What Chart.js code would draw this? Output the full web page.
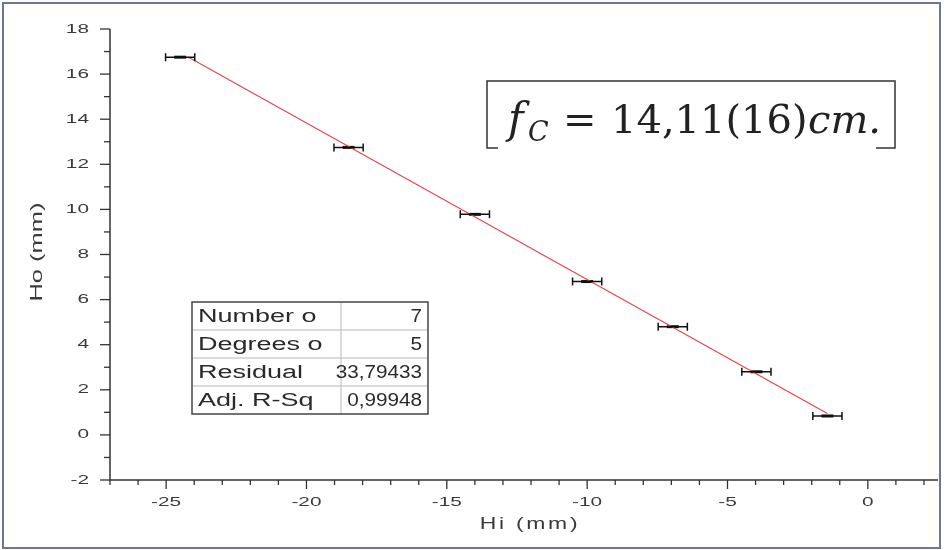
<!DOCTYPE html>
<html>
<head>
<meta charset="utf-8">
<script src="https://cdn.jsdelivr.net/npm/chart.js@4"></script>
<style>
  html, body { margin: 0; padding: 0; background: #fff; }
  canvas { display: block; }
</style>
</head>
<body>
<canvas id="lensChart" width="947" height="550"></canvas>
<script>
// measured image heights vs object heights
const hiValues = [-24.5, -18.5, -14.0, -10.0, -6.95, -3.97, -1.44];
const hoValues = [16.75, 12.75, 9.78, 6.8, 4.8, 2.8, 0.84];
const hiErrors = [0.52, 0.52, 0.52, 0.52, 0.52, 0.52, 0.52];

// linear fit drawn across the measured range
const fitHi = [-24.2, -1.44];
const fitHo = [16.75, 0.95];

const xTickLabels = [-25, -20, -15, -10, -5, 0];
const yTickLabels = [-2, 0, 2, 4, 6, 8, 10, 12, 14, 16, 18];

const statNames = ['Number o', 'Degrees o', 'Residual', 'Adj. R-Sq'];
const statValues = ['7', '5', '33,79433', '0,99948'];

const ctx = document.getElementById('lensChart');

function wideText(c, text, x, y, sx, align) {
    c.save();
    c.translate(x, y);
    c.scale(sx, 1);
    c.textAlign = align;
    c.fillText(text, 0, 0);
    c.restore();
}

// axis lines, outward ticks and the stretched labels
const axesPlugin = {
    id: 'axesPlugin',
    afterDraw(chart) {
        const c = chart.ctx;
        const xs = chart.scales.x;
        const ys = chart.scales.y;
        const area = chart.chartArea;
        c.save();
        c.strokeStyle = '#333';
        c.lineWidth = 1.5;
        c.beginPath();
        c.moveTo(area.left, area.top);
        c.lineTo(area.left, area.bottom);
        c.lineTo(area.right, area.bottom);
        c.stroke();

        c.lineWidth = 1.3;
        ys.ticks.forEach(t => {
            const y = ys.getPixelForValue(t.value);
            const len = yTickLabels.includes(t.value) ? 10 : 6;
            c.beginPath();
            c.moveTo(area.left - len, y);
            c.lineTo(area.left, y);
            c.stroke();
        });
        xs.ticks.forEach(t => {
            const x = xs.getPixelForValue(t.value);
            const len = xTickLabels.includes(t.value) ? 9 : 5;
            c.beginPath();
            c.moveTo(x, area.bottom);
            c.lineTo(x, area.bottom + len);
            c.stroke();
        });

        c.fillStyle = '#3a3a3a';
        c.font = '13px "Liberation Sans", Arial, sans-serif';
        c.textBaseline = 'middle';
        yTickLabels.forEach(v => {
            wideText(c, String(v), 89, ys.getPixelForValue(v), 1.6, 'right');
        });
        xTickLabels.forEach(v => {
            wideText(c, String(v), xs.getPixelForValue(v), 502, 1.6, 'center');
        });

        c.font = '17px "Liberation Sans", Arial, sans-serif';
        c.letterSpacing = '2px';
        wideText(c, 'Hi (mm)', 530, 524, 1.35, 'center');
        c.letterSpacing = '0px';
        c.save();
        c.translate(37, 252);
        c.rotate(-Math.PI / 2);
        wideText(c, 'Ho (mm)', 0, 0, 1.5, 'center');
        c.restore();
        c.restore();
    }
};

// horizontal error bars on the measured points
const errorBarPlugin = {
    id: 'errorBarPlugin',
    afterDatasetsDraw(chart) {
        const c = chart.ctx;
        const xs = chart.scales.x;
        const ys = chart.scales.y;
        c.save();
        c.strokeStyle = '#111';
        c.lineWidth = 1.5;
        hiValues.forEach((hi, i) => {
            const x1 = xs.getPixelForValue(hi - hiErrors[i]);
            const x2 = xs.getPixelForValue(hi + hiErrors[i]);
            const y = ys.getPixelForValue(hoValues[i]);
            c.beginPath();
            c.moveTo(x1, y);
            c.lineTo(x2, y);
            c.moveTo(x1, y - 4);
            c.lineTo(x1, y + 4);
            c.moveTo(x2, y - 4);
            c.lineTo(x2, y + 4);
            c.stroke();
        });
        c.restore();
    }
};

// fit statistics table and the focal length box
const notesPlugin = {
    id: 'notesPlugin',
    afterDraw(chart) {
        const c = chart.ctx;
        c.save();

        // outer frame
        c.strokeStyle = '#6f7595';
        c.lineWidth = 2;
        c.strokeRect(3, 3, 937, 545);

        // table
        const left = 192, mid = 341, right = 428, top = 302, rowH = 28;
        c.strokeStyle = '#b8b8b8';
        c.lineWidth = 1;
        for (let i = 1; i < statNames.length; i++) {
            c.beginPath();
            c.moveTo(left, top + i * rowH);
            c.lineTo(right, top + i * rowH);
            c.stroke();
        }
        c.beginPath();
        c.moveTo(mid, top);
        c.lineTo(mid, top + rowH * statNames.length);
        c.stroke();
        c.strokeStyle = '#444';
        c.lineWidth = 1.5;
        c.strokeRect(left, top, right - left, rowH * statNames.length);

        c.fillStyle = '#2a2a2a';
        c.font = '18px "Liberation Sans", Arial, sans-serif';
        c.textBaseline = 'middle';
        statNames.forEach((name, i) => {
            const y = top + rowH * i + rowH / 2 + 1;
            wideText(c, name, left + 6, y, 1.5, 'left');
            wideText(c, statValues[i], right - 6, y, 1.15, 'right');
        });

        // focal length box
        c.strokeStyle = '#333';
        c.lineWidth = 1.5;
        c.beginPath();
        c.moveTo(498, 148);
        c.lineTo(487, 148);
        c.lineTo(487, 81);
        c.lineTo(895, 81);
        c.lineTo(895, 148);
        c.lineTo(876, 148);
        c.stroke();

        c.fillStyle = '#222';
        c.textBaseline = 'alphabetic';
        c.textAlign = 'left';
        c.font = 'italic 42px "DejaVu Serif", serif';
        c.fillText('f', 508, 133);
        c.font = 'italic 27px "DejaVu Serif", serif';
        c.fillText('C', 528, 141);
        c.font = '40px "DejaVu Serif", serif';
        c.fillText('=', 563, 133);
        c.fillText('14,11(16)', 611, 133);
        c.font = 'italic 40px "DejaVu Serif", serif';
        c.fillText('cm.', 808, 133);
        c.restore();
    }
};

const myChart = new Chart(ctx, {
    type: 'scatter',
    data: {
        datasets: [{
            type: 'line',
            label: 'Fit',
            data: fitHi.map((x, i) => ({ x: x, y: fitHo[i] })),
            borderColor: '#e0474f',
            borderWidth: 1.2,
            pointRadius: 0,
            fill: false
        }, {
            label: 'Ho',
            data: hiValues.map((x, i) => ({ x: x, y: hoValues[i] })),
            pointStyle: 'line',
            pointRadius: 6,
            borderWidth: 3,
            borderColor: '#111',
            backgroundColor: '#111'
        }]
    },
    options: {
        responsive: false,
        animation: false,
        layout: {
            padding: { left: 0, top: 29, right: 9, bottom: 0 }
        },
        scales: {
            x: {
                type: 'linear',
                min: -27,
                max: 2.5,
                ticks: { stepSize: 1, includeBounds: false, display: false },
                grid: { display: false, drawTicks: false },
                border: { display: false },
                afterFit: function(scale) { scale.height = 70; }
            },
            y: {
                type: 'linear',
                min: -2,
                max: 18,
                ticks: { stepSize: 1, includeBounds: false, display: false },
                grid: { display: false, drawTicks: false },
                border: { display: false },
                afterFit: function(scale) { scale.width = 110; }
            }
        },
        plugins: {
            legend: { display: false },
            tooltip: { enabled: false }
        }
    },
    plugins: [axesPlugin, errorBarPlugin, notesPlugin]
});
</script>
</body>
</html>
